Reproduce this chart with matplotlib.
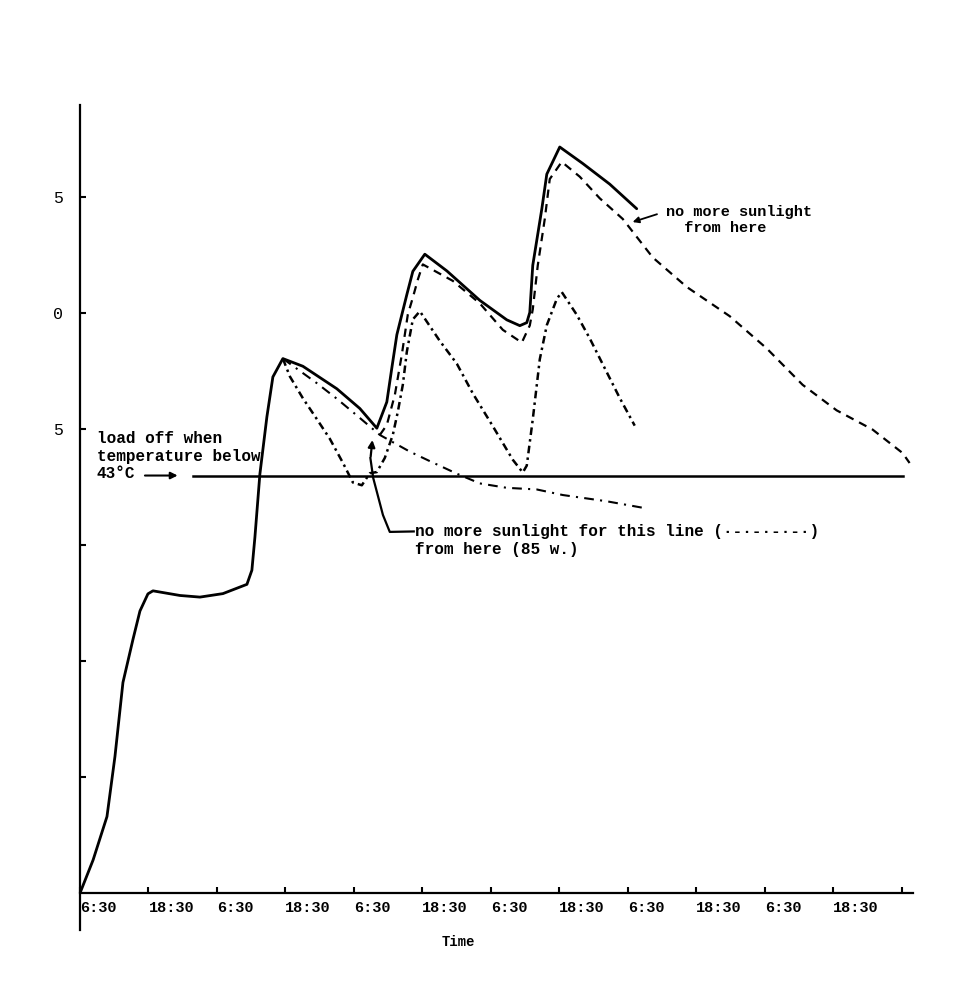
import matplotlib
matplotlib.use("Agg")
import matplotlib.pyplot as plt

# ---------------- data ----------------
time_ticks = [0, 12, 24, 36, 48, 60, 72, 84, 96, 108, 120, 132, 144]
time_labels = ["6:30", "18:30", "6:30", "18:30", "6:30", "18:30",
               "6:30", "18:30", "6:30", "18:30", "6:30", "18:30", ""]
temp_ticks = [30, 35, 40, 45, 50, 55]
temp_labels = ["", "", "", "5", "0", "5"]

# solid line (hours from first 6:30, temperature degC)
solid_t = [0, 2.3, 4.73, 6.13, 7.53, 9.29, 10.51, 11.91, 12.79, 17.52,
           21.02, 25.05, 29.26, 30.13, 30.66, 31.53, 32.76, 33.81, 35.56, 39.07,
           45.02, 49.05, 52.03, 53.78, 54.66, 55.54, 57.29, 58.34, 60.44, 64.30,
           70.08, 74.81, 77.09, 78.31, 78.84, 79.36, 80.94, 81.82, 84.09, 88.12,
           92.85, 97.58]
solid_T = [25.0, 26.43, 28.30, 30.89, 34.08, 35.94, 37.16, 37.9, 38.03, 37.83,
           37.76, 37.91, 38.31, 38.92, 40.34, 43.06, 45.53, 47.25, 48.04, 47.71,
           46.74, 45.89, 45.04, 46.17, 47.64, 49.07, 50.80, 51.80, 52.54, 51.82,
           50.55, 49.71, 49.46, 49.59, 50.03, 52.06, 54.48, 55.99, 57.16, 56.45,
           55.56, 54.50]

# dashed line
dashed_t = [52.56, 53.78, 55.19, 56.41, 57.46, 58.34, 59.22, 60.09, 65.35, 70.08,
            74.11, 77.44, 78.84, 79.36, 80.24, 81.46, 82.34, 84.44, 87.60, 91.10,
            95.13, 100.39, 106.34, 113.87, 120.36, 126.66, 132.62, 138.93, 144.18, 145.41]
dashed_T = [44.75, 45.18, 46.48, 48.21, 49.94, 50.67, 51.45, 52.10, 51.39, 50.42,
            49.28, 48.73, 49.47, 50.16, 52.06, 54.05, 55.78, 56.52, 55.88, 54.95,
            54.06, 52.40, 51.13, 49.87, 48.48, 46.91, 45.81, 44.98, 43.97, 43.54]

# dash-dot line (load switched off at 43 degC)
dashdot_t = [35.56, 36.79, 39.07, 41.52, 43.80, 46.08, 47.83, 49.40, 50.81, 52.03,
             53.43, 54.84, 55.71, 56.59, 57.29, 58.34, 59.57, 63.07, 66.05, 68.85,
             72.35, 75.86, 77.61, 78.31, 79.36, 80.06, 80.59, 81.82, 83.57, 84.44,
             87.07, 89.35, 92.50, 94.61, 97.23]
dashdot_T = [48.04, 47.27, 46.33, 45.43, 44.58, 43.55, 42.70, 42.58, 43.10, 43.15,
             43.76, 44.76, 45.75, 46.92, 48.34, 49.73, 50.08, 48.80, 47.82, 46.54,
             45.13, 43.68, 43.13, 43.43, 45.42, 46.89, 48.01, 49.48, 50.61, 50.91,
             49.93, 48.91, 47.37, 46.34, 45.15]

# long dash-dot line (85 w., no more sunlight)
longdash_t = [35.56, 41.52, 45.02, 48.53, 52.56, 57.81, 61.32, 66.05, 70.08, 74.81,
              80.06, 84.62, 92.33, 99.33]
longdash_T = [48.04, 46.98, 46.31, 45.59, 44.75, 44.03, 43.62, 43.08, 42.66, 42.47,
              42.40, 42.16, 41.89, 41.58]

load_off_T = 43
load_off_t = [19.8, 144.2]

# ---------------- figure ----------------
plt.rcParams["lines.scale_dashes"] = False
mono = "Liberation Mono"

fig = plt.figure(figsize=(9.66, 10.05), dpi=100)
ax = fig.add_axes([0.0828, 0.0746, 0.8623, 0.8209])
ax.set_xlim(0, 146)
ax.set_ylim(23.41, 58.97)

for s in ("top", "right"):
    ax.spines[s].set_visible(False)
ax.spines["bottom"].set_position(("data", 25))
ax.spines["left"].set_linewidth(1.6)
ax.spines["bottom"].set_linewidth(1.6)

ax.plot(solid_t, solid_T, color="black", lw=2.0, solid_capstyle="round")
ax.plot(dashed_t, dashed_T, color="black", lw=1.6, dashes=(6, 4.5))
ax.plot(dashdot_t, dashdot_T, color="black", lw=1.8, dashes=(5.5, 3, 1.8, 3))
ax.plot(longdash_t, longdash_T, color="black", lw=1.5, dashes=(7, 4.5, 1.5, 4.5))
ax.plot(load_off_t, [load_off_T, load_off_T], color="black", lw=1.8)

ax.set_xticks(time_ticks)
ax.set_xticklabels(time_labels, ha="left", fontfamily=mono,
                   fontsize=11, fontweight="bold")
ax.set_yticks(temp_ticks)
ax.set_yticklabels(temp_labels, fontfamily=mono, fontsize=12)
ax.tick_params(axis="x", direction="in", length=4, width=1.5, pad=6)
ax.tick_params(axis="y", direction="in", length=4, width=1.5, pad=12)

ax.set_xlabel("Time", fontfamily=mono, fontsize=10, fontweight="bold")
ax.xaxis.set_label_coords(0.454, -0.006)

# ---------------- annotations ----------------
ax.text(2.9, 43.83, "load off when\ntemperature below\n43°C",
        fontfamily=mono, fontsize=11.5, fontweight="bold",
        ha="left", va="center", linespacing=1.2)
ax.annotate("", xy=(17.6, 43.0), xytext=(10.9, 43.0),
            arrowprops=dict(arrowstyle="-|>", color="black", lw=1.5,
                            mutation_scale=10))

ax.text(58.8, 40.2,
        "no more sunlight for this line (·-·-·-·-·)\nfrom here (85 w.)",
        fontfamily=mono, fontsize=11.5, fontweight="bold",
        ha="left", va="center", linespacing=1.2)
ax.plot([58.5, 54.3, 53.1, 51.4, 50.9], [40.59, 40.57, 41.30, 42.89, 43.75],
        color="black", lw=1.6)
ax.annotate("", xy=(51.3, 44.65), xytext=(50.9, 43.7),
            arrowprops=dict(arrowstyle="-|>", color="black", lw=1.6,
                            mutation_scale=10))

ax.text(102.8, 54.0, "no more sunlight\n  from here",
        fontfamily=mono, fontsize=11, fontweight="bold",
        ha="left", va="center", linespacing=1.2)
ax.annotate("", xy=(96.4, 53.89), xytext=(101.6, 54.30),
            arrowprops=dict(arrowstyle="-|>", color="black", lw=1.3,
                            mutation_scale=9))

fig.savefig("out.png", dpi=100)
